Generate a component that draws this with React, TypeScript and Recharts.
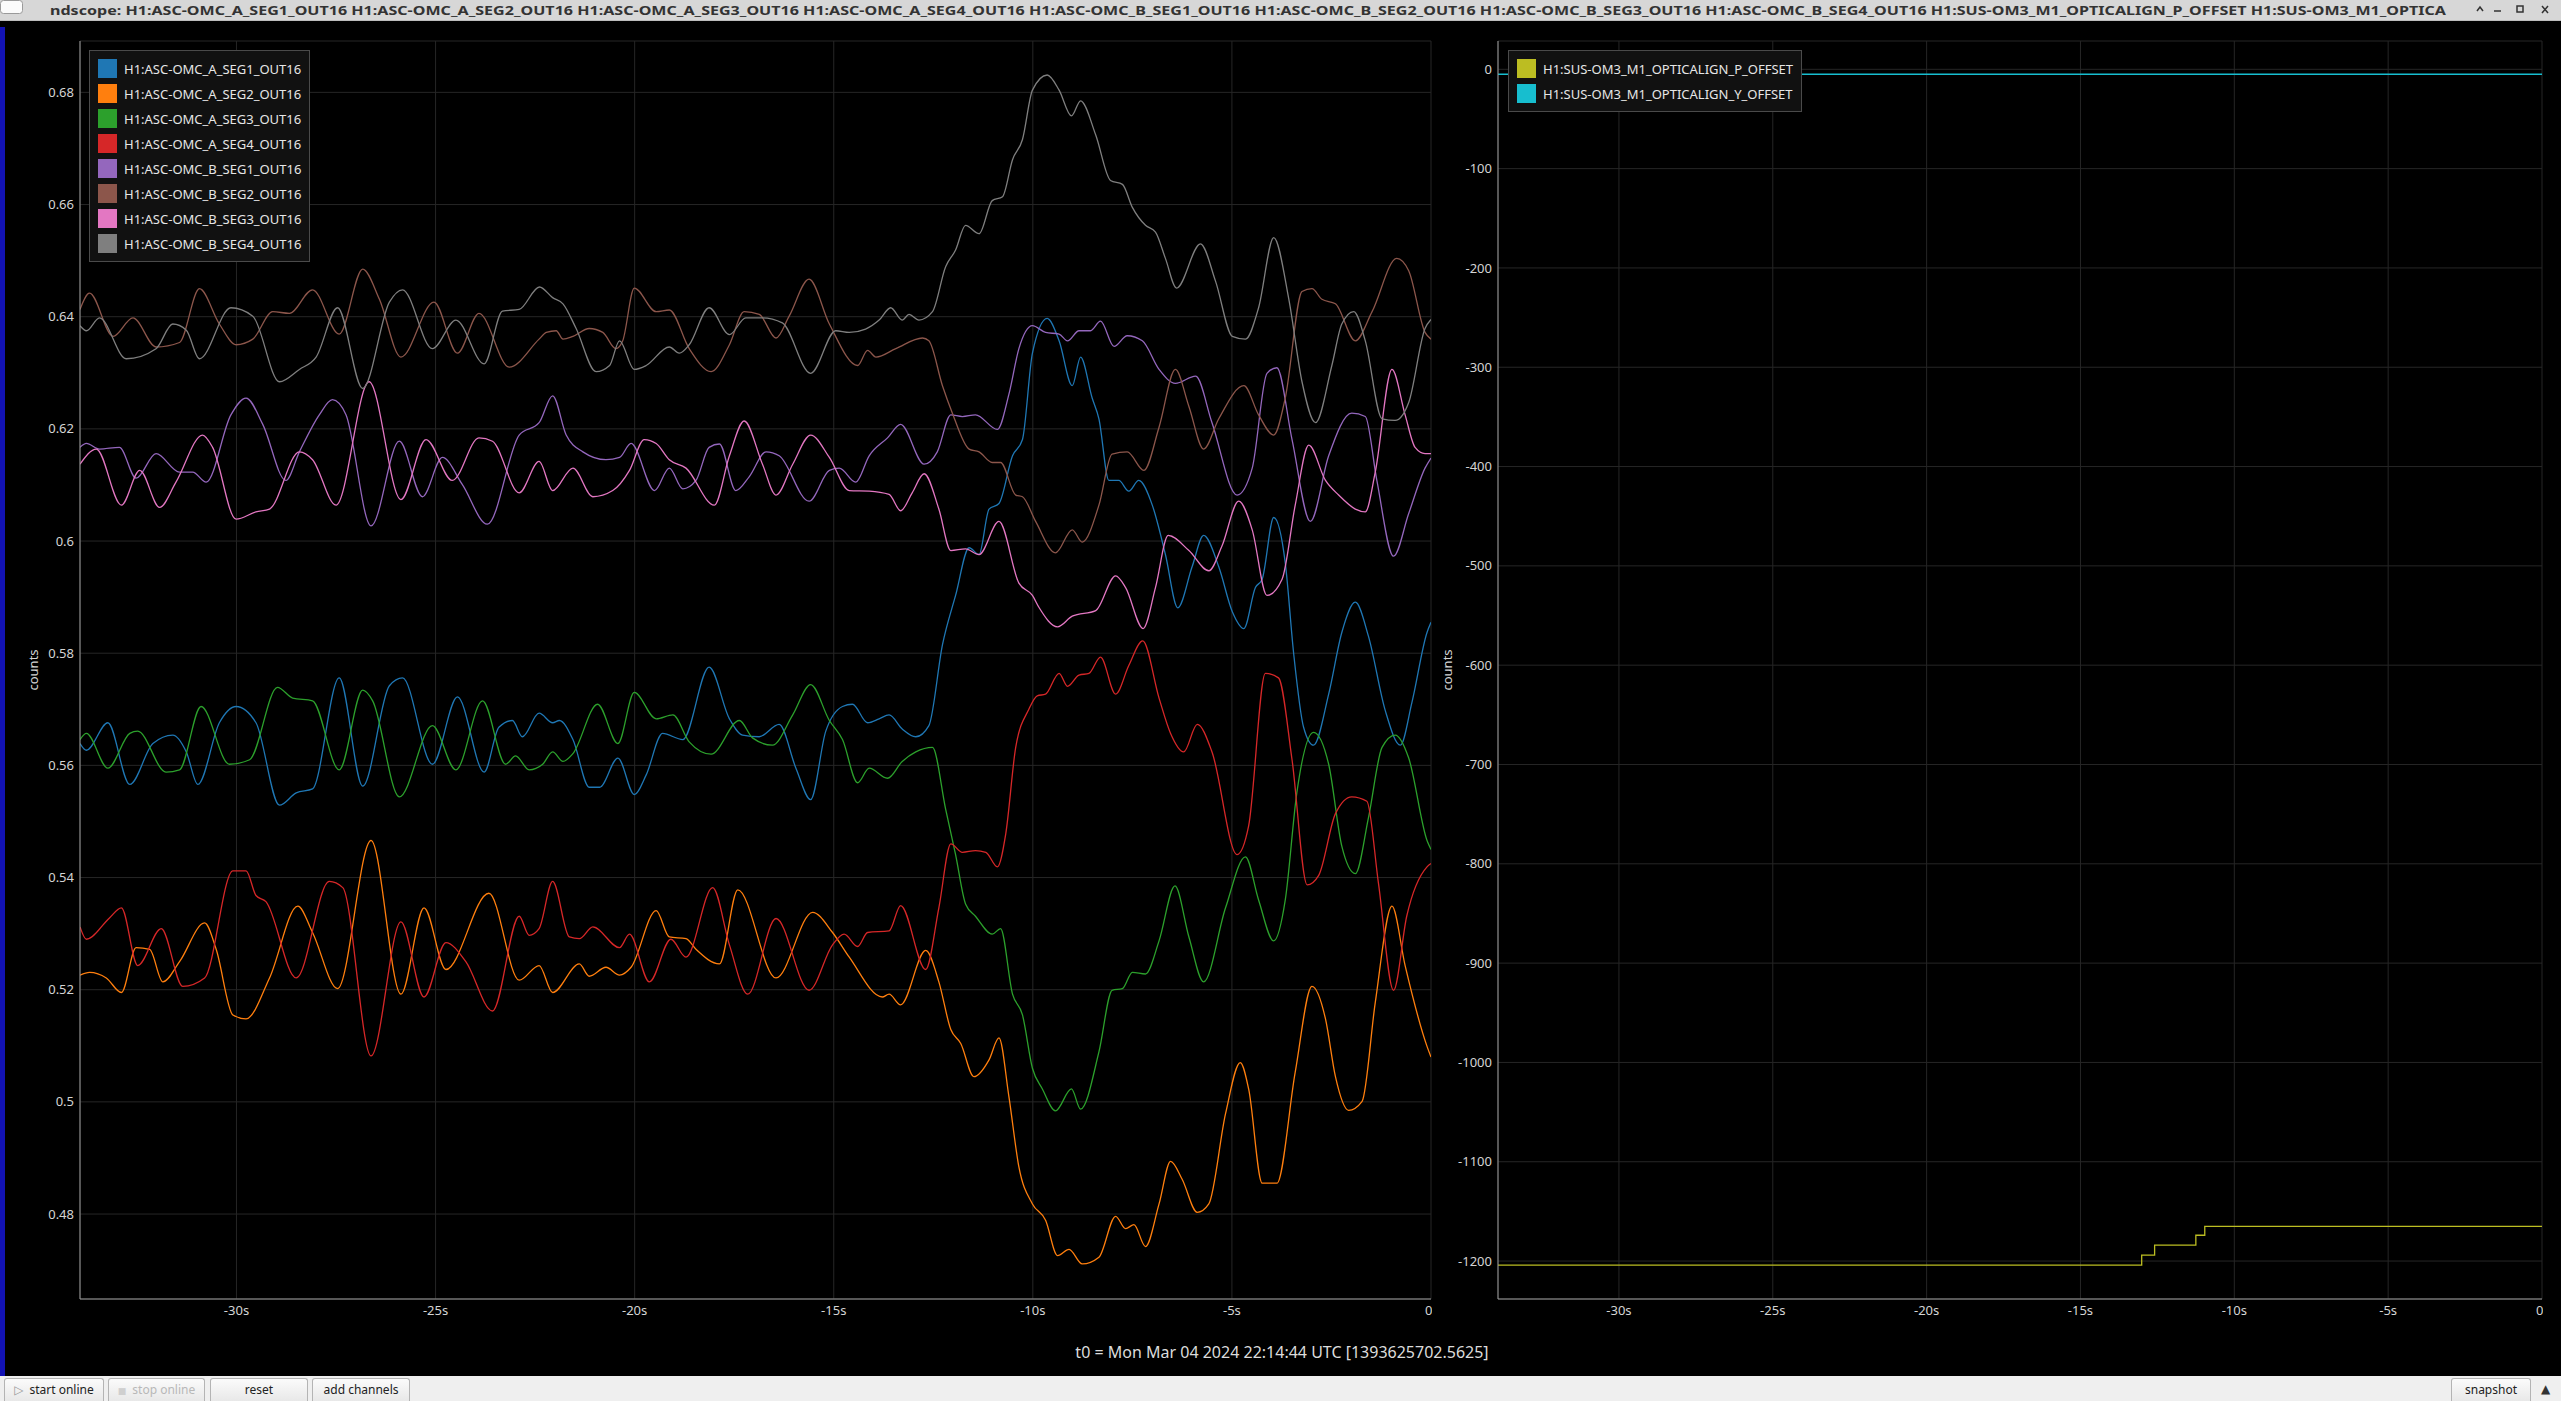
import { LineChart, Line, XAxis, YAxis, CartesianGrid, Legend } from 'recharts';

type Pt = [number, number];

// time axis (seconds relative to t0)
const timeDomain: [number, number] = [-33.93, 0];
const timeTicks = [-30, -25, -20, -15, -10, -5, 0];
const omcTicks = [0.48, 0.5, 0.52, 0.54, 0.56, 0.58, 0.6, 0.62, 0.64, 0.66, 0.68];
const offsetTicks = [0, -100, -200, -300, -400, -500, -600, -700, -800, -900, -1000, -1100, -1200];

const omcASeg1: Pt[] = [
  [-33.93, 0.5639], [-33.77, 0.5627], [-33.23, 0.5676], [-32.68, 0.5566], [-32.1, 0.5639], [-31.6, 0.5654],
  [-31.26, 0.5624], [-30.97, 0.5566], [-30.43, 0.5676], [-30.01, 0.5705], [-29.51, 0.5676], [-28.92, 0.5529],
  [-28.5, 0.5551], [-28.09, 0.5558], [-27.42, 0.5756], [-26.83, 0.5563], [-26.16, 0.5742], [-25.83, 0.5756],
  [-25.08, 0.5602], [-24.45, 0.5722], [-23.78, 0.5588], [-23.41, 0.5668], [-23.07, 0.568], [-22.82, 0.5651],
  [-22.4, 0.5693], [-22.06, 0.5676], [-21.89, 0.568], [-21.55, 0.5646], [-21.14, 0.5561], [-20.88, 0.5561],
  [-20.42, 0.5613], [-20.01, 0.5548], [-19.71, 0.5583], [-19.3, 0.5657], [-18.79, 0.5646], [-18.13, 0.5775],
  [-17.62, 0.5683], [-17.29, 0.5654], [-16.87, 0.5651], [-16.37, 0.5673], [-15.95, 0.5595], [-15.58, 0.5539],
  [-15.2, 0.5661], [-14.78, 0.5705], [-14.53, 0.5709], [-14.15, 0.5676], [-13.86, 0.5683], [-13.61, 0.569],
  [-13.28, 0.5665], [-12.94, 0.5651], [-12.61, 0.5671], [-12.27, 0.5815], [-11.94, 0.5903], [-11.6, 0.5988],
  [-11.35, 0.5976], [-11.1, 0.6057], [-10.85, 0.6067], [-10.51, 0.6152], [-10.26, 0.6181], [-10.01, 0.6335],
  [-9.64, 0.6397], [-9.34, 0.6357], [-9.01, 0.6277], [-8.8, 0.6328], [-8.51, 0.6255], [-8.34, 0.6218],
  [-8.09, 0.6108], [-7.84, 0.6108], [-7.59, 0.6089], [-7.34, 0.6108], [-7.0, 0.6064], [-6.67, 0.5976],
  [-6.36, 0.5881], [-6.0, 0.5954], [-5.71, 0.601], [-5.33, 0.5954], [-4.99, 0.5874], [-4.7, 0.5844],
  [-4.41, 0.5917], [-4.24, 0.5932], [-3.95, 0.6042], [-3.66, 0.5961], [-3.45, 0.58], [-3.2, 0.5668],
  [-2.95, 0.5636], [-2.57, 0.5727], [-2.24, 0.5837], [-1.9, 0.5891], [-1.57, 0.583], [-1.15, 0.5698],
  [-0.77, 0.5636], [-0.48, 0.5712], [-0.1, 0.5837], [0, 0.5855],
];

const omcASeg2: Pt[] = [
  [-33.93, 0.5226], [-33.69, 0.5231], [-33.27, 0.5221], [-32.89, 0.5195], [-32.52, 0.5275], [-32.18, 0.5272],
  [-31.85, 0.5214], [-31.43, 0.525], [-30.8, 0.5319], [-30.51, 0.5272], [-30.09, 0.5155], [-29.76, 0.5148],
  [-29.17, 0.5221], [-28.46, 0.5349], [-28.09, 0.5302], [-27.46, 0.5202], [-26.62, 0.5466], [-25.87, 0.5192],
  [-25.29, 0.5346], [-24.74, 0.5236], [-23.66, 0.5372], [-22.9, 0.5217], [-22.4, 0.5243], [-22.06, 0.5195],
  [-21.39, 0.5246], [-21.14, 0.5224], [-20.72, 0.524], [-20.38, 0.5226], [-20.09, 0.524], [-19.46, 0.5341],
  [-19.13, 0.5294], [-18.71, 0.5291], [-18.46, 0.5272], [-17.87, 0.5246], [-17.41, 0.5378], [-16.45, 0.5221],
  [-15.53, 0.5338], [-15.03, 0.5302], [-14.61, 0.5258], [-13.78, 0.5187], [-13.61, 0.5192], [-13.32, 0.5173],
  [-12.69, 0.527], [-12.36, 0.5214], [-12.06, 0.5129], [-11.81, 0.5104], [-11.48, 0.5045], [-11.1, 0.5075],
  [-10.85, 0.5114], [-10.6, 0.5009], [-10.35, 0.4884], [-10.01, 0.4818], [-9.68, 0.4789], [-9.38, 0.4726],
  [-9.09, 0.4737], [-8.76, 0.4711], [-8.34, 0.4723], [-7.92, 0.4796], [-7.67, 0.4774], [-7.46, 0.4781],
  [-7.17, 0.4742], [-6.83, 0.4818], [-6.54, 0.4894], [-6.25, 0.4862], [-5.87, 0.4803], [-5.58, 0.4818],
  [-5.16, 0.4979], [-4.79, 0.507], [-4.58, 0.5023], [-4.24, 0.4855], [-3.87, 0.4855], [-3.41, 0.5053],
  [-2.99, 0.5206], [-2.65, 0.5148], [-2.4, 0.5045], [-2.07, 0.4985], [-1.73, 0.5001], [-1.4, 0.5177],
  [-0.98, 0.5349], [-0.65, 0.5243], [-0.1, 0.5099], [0, 0.508],
];

const omcASeg3: Pt[] = [
  [-33.93, 0.5646], [-33.77, 0.5657], [-33.23, 0.5595], [-32.68, 0.5657], [-32.48, 0.5661], [-31.77, 0.5588],
  [-31.43, 0.5592], [-30.89, 0.5705], [-30.18, 0.5602], [-29.67, 0.561], [-28.97, 0.5739], [-28.59, 0.572],
  [-28.09, 0.5715], [-27.42, 0.5592], [-26.83, 0.5734], [-26.58, 0.5715], [-25.91, 0.5544], [-25.08, 0.5671],
  [-24.49, 0.5592], [-23.82, 0.5715], [-23.24, 0.5602], [-22.99, 0.5617], [-22.65, 0.5592], [-22.31, 0.5602],
  [-22.06, 0.5624], [-21.8, 0.5607], [-21.55, 0.5621], [-20.93, 0.5709], [-20.42, 0.5639], [-20.01, 0.573],
  [-19.46, 0.5683], [-19.04, 0.569], [-18.63, 0.5642], [-18.08, 0.562], [-17.37, 0.568], [-17.04, 0.5649],
  [-16.54, 0.5636], [-16.03, 0.569], [-15.58, 0.5744], [-15.11, 0.568], [-14.78, 0.5646], [-14.4, 0.5569],
  [-14.11, 0.5595], [-13.65, 0.5577], [-13.28, 0.5607], [-12.94, 0.5624], [-12.52, 0.5632], [-12.19, 0.5522],
  [-11.94, 0.5441], [-11.69, 0.5353], [-11.44, 0.5331], [-11.02, 0.5299], [-10.81, 0.5309], [-10.51, 0.5192],
  [-10.26, 0.5155], [-10.01, 0.506], [-9.76, 0.5023], [-9.43, 0.4984], [-9.03, 0.5023], [-8.8, 0.4987],
  [-8.34, 0.5089], [-8.01, 0.5199], [-7.75, 0.5202], [-7.5, 0.5231], [-7.17, 0.5228], [-6.83, 0.5287],
  [-6.43, 0.5385], [-6.08, 0.5294], [-5.71, 0.5214], [-5.16, 0.5346], [-4.66, 0.5437], [-4.33, 0.536],
  [-3.95, 0.5287], [-3.66, 0.536], [-3.37, 0.5551], [-2.95, 0.5659], [-2.57, 0.5602], [-2.24, 0.5456],
  [-1.9, 0.5407], [-1.57, 0.5507], [-1.23, 0.5632], [-0.9, 0.5654], [-0.56, 0.5613], [-0.1, 0.5466], [0, 0.545],
];

const omcASeg4: Pt[] = [
  [-33.93, 0.5312], [-33.77, 0.529], [-33.19, 0.5328], [-32.89, 0.5346], [-32.48, 0.5243], [-31.89, 0.5309],
  [-31.35, 0.5206], [-30.8, 0.5221], [-30.09, 0.5412], [-29.76, 0.5412], [-29.51, 0.5368], [-29.26, 0.5357],
  [-28.5, 0.5221], [-27.67, 0.5393], [-27.33, 0.5382], [-26.62, 0.5082], [-25.87, 0.5321], [-25.29, 0.5187],
  [-24.74, 0.5284], [-24.24, 0.525], [-23.57, 0.5162], [-22.9, 0.5331], [-22.65, 0.5297], [-22.4, 0.5309],
  [-22.06, 0.5393], [-21.64, 0.5294], [-21.39, 0.5291], [-21.05, 0.5312], [-20.38, 0.5275], [-20.13, 0.5299],
  [-19.63, 0.5214], [-19.09, 0.529], [-18.71, 0.5258], [-18.04, 0.5382], [-17.62, 0.528], [-17.16, 0.5192],
  [-16.45, 0.5327], [-15.62, 0.5199], [-15.03, 0.528], [-14.74, 0.5299], [-14.4, 0.5277], [-14.15, 0.5302],
  [-13.61, 0.5305], [-13.32, 0.535], [-12.69, 0.5236], [-12.36, 0.5346], [-12.06, 0.546], [-11.77, 0.5445],
  [-11.44, 0.5448], [-11.18, 0.5445], [-10.89, 0.5419], [-10.68, 0.5478], [-10.43, 0.5632], [-10.1, 0.57],
  [-9.89, 0.5724], [-9.68, 0.5727], [-9.34, 0.5764], [-9.13, 0.5741], [-8.84, 0.5761], [-8.59, 0.5764],
  [-8.3, 0.5793], [-7.92, 0.5727], [-7.59, 0.5778], [-7.24, 0.5822], [-6.83, 0.572], [-6.54, 0.5657],
  [-6.21, 0.5624], [-5.87, 0.5673], [-5.5, 0.5624], [-4.87, 0.5441], [-4.58, 0.5492], [-4.16, 0.5764],
  [-3.83, 0.5756], [-3.49, 0.561], [-3.11, 0.5387], [-2.82, 0.5404], [-2.4, 0.5514], [-1.99, 0.5544],
  [-1.61, 0.5536], [-1.32, 0.539], [-0.94, 0.5199], [-0.61, 0.5331], [-0.1, 0.5419], [0, 0.5425],
];

const omcBSeg1: Pt[] = [
  [-33.93, 0.6167], [-33.77, 0.6174], [-33.44, 0.6164], [-32.94, 0.6167], [-32.52, 0.6112], [-32.02, 0.6156],
  [-31.43, 0.6123], [-31.1, 0.6123], [-30.76, 0.6105], [-30.14, 0.6225], [-29.76, 0.6255], [-29.34, 0.6208],
  [-28.76, 0.6108], [-28.42, 0.6159], [-27.92, 0.6225], [-27.59, 0.6252], [-27.25, 0.6225], [-26.62, 0.6027],
  [-25.91, 0.6178], [-25.33, 0.6079], [-24.83, 0.6149], [-24.33, 0.6101], [-23.7, 0.603], [-22.9, 0.6189],
  [-22.4, 0.6211], [-22.06, 0.6259], [-21.72, 0.6189], [-21.3, 0.6159], [-20.72, 0.6145], [-20.38, 0.6149],
  [-20.09, 0.6174], [-19.5, 0.609], [-19.13, 0.613], [-18.79, 0.6093], [-18.46, 0.6108], [-18.13, 0.6167],
  [-17.87, 0.6173], [-17.46, 0.609], [-17.12, 0.6115], [-16.7, 0.6159], [-16.37, 0.6152], [-15.62, 0.6071],
  [-15.11, 0.6126], [-14.86, 0.613], [-14.45, 0.6105], [-14.11, 0.6152], [-13.65, 0.6184], [-13.32, 0.6208],
  [-12.73, 0.6137], [-12.4, 0.6159], [-12.06, 0.6225], [-11.77, 0.6222], [-11.44, 0.6225], [-10.89, 0.6199],
  [-10.6, 0.6262], [-10.35, 0.6343], [-10.01, 0.6384], [-9.68, 0.6372], [-9.34, 0.6369], [-9.13, 0.6357],
  [-8.84, 0.6375], [-8.55, 0.6375], [-8.3, 0.6392], [-7.96, 0.6347], [-7.63, 0.6366], [-7.25, 0.6357],
  [-6.83, 0.6306], [-6.42, 0.6281], [-5.91, 0.6294], [-5.5, 0.6211], [-4.87, 0.6082], [-4.49, 0.613],
  [-4.12, 0.6299], [-3.87, 0.6309], [-3.49, 0.6181], [-3.03, 0.6035], [-2.57, 0.6152], [-1.99, 0.6228],
  [-1.65, 0.6222], [-1.36, 0.6108], [-0.94, 0.5973], [-0.56, 0.6049], [-0.15, 0.613], [0, 0.6148],
];

const omcBSeg2: Pt[] = [
  [-33.93, 0.6413], [-33.69, 0.6442], [-33.1, 0.6365], [-32.6, 0.6398], [-32.02, 0.6346], [-31.43, 0.6354],
  [-30.93, 0.645], [-30.43, 0.6387], [-30.01, 0.635], [-29.59, 0.636], [-29.09, 0.6409], [-28.67, 0.6406],
  [-28.09, 0.6448], [-27.42, 0.6369], [-26.83, 0.6485], [-26.41, 0.6431], [-25.87, 0.6328], [-25.04, 0.6426],
  [-24.45, 0.6335], [-23.91, 0.6406], [-23.15, 0.631], [-22.4, 0.636], [-22.22, 0.6372], [-21.97, 0.6375],
  [-21.8, 0.636], [-21.55, 0.6365], [-21.14, 0.6379], [-20.8, 0.6372], [-20.47, 0.6343], [-20.3, 0.6357],
  [-20.01, 0.6451], [-19.46, 0.6409], [-19.13, 0.6412], [-18.63, 0.6343], [-18.08, 0.6302], [-17.62, 0.635],
  [-17.25, 0.6409], [-16.87, 0.6404], [-16.45, 0.6362], [-16.12, 0.6401], [-15.62, 0.6467], [-15.11, 0.6387],
  [-14.4, 0.6313], [-14.15, 0.634], [-13.94, 0.6328], [-13.44, 0.6343], [-12.77, 0.6362], [-12.61, 0.6357],
  [-12.27, 0.6277], [-12.02, 0.6228], [-11.6, 0.6164], [-11.35, 0.6159], [-11.02, 0.614], [-10.81, 0.614],
  [-10.43, 0.6082], [-10.26, 0.6079], [-9.93, 0.6035], [-9.43, 0.5979], [-9.01, 0.602], [-8.76, 0.5998],
  [-8.34, 0.6064], [-8.01, 0.6155], [-7.63, 0.6159], [-7.21, 0.6126], [-6.83, 0.6203], [-6.42, 0.6306],
  [-6.08, 0.624], [-5.71, 0.6164], [-5.33, 0.6218], [-4.7, 0.6277], [-4.33, 0.6225], [-3.95, 0.6189],
  [-3.66, 0.6255], [-3.24, 0.6445], [-2.99, 0.645], [-2.74, 0.6431], [-2.4, 0.6423], [-1.9, 0.6357],
  [-1.48, 0.6409], [-0.86, 0.6504], [-0.56, 0.6482], [-0.15, 0.6372], [0, 0.636],
];

const omcBSeg3: Pt[] = [
  [-33.93, 0.6137], [-33.52, 0.6164], [-32.89, 0.6064], [-32.43, 0.6126], [-31.93, 0.606], [-31.52, 0.6105],
  [-30.85, 0.6189], [-30.6, 0.6167], [-30.01, 0.6039], [-29.51, 0.6052], [-29.17, 0.6057], [-28.42, 0.6159],
  [-28.09, 0.6145], [-27.5, 0.6064], [-26.67, 0.6284], [-25.87, 0.6074], [-25.24, 0.6181], [-24.58, 0.6108],
  [-23.91, 0.6184], [-23.57, 0.6178], [-22.9, 0.6086], [-22.4, 0.6142], [-22.06, 0.609], [-21.55, 0.613],
  [-21.05, 0.6079], [-20.55, 0.609], [-20.13, 0.6126], [-19.76, 0.6181], [-19.46, 0.6174], [-19.13, 0.6145],
  [-18.71, 0.613], [-18.0, 0.6064], [-17.62, 0.6152], [-17.25, 0.6214], [-16.79, 0.6137], [-16.45, 0.6082],
  [-16.03, 0.6137], [-15.58, 0.6189], [-15.11, 0.6149], [-14.61, 0.609], [-14.11, 0.6089], [-13.61, 0.6083],
  [-13.32, 0.6054], [-13.03, 0.6086], [-12.73, 0.612], [-12.36, 0.6057], [-12.06, 0.5983], [-11.69, 0.5986],
  [-11.35, 0.5976], [-10.85, 0.6035], [-10.35, 0.5925], [-10.01, 0.5903], [-9.84, 0.5881], [-9.38, 0.5847],
  [-9.01, 0.5866], [-8.42, 0.5876], [-7.92, 0.5938], [-7.67, 0.5917], [-7.23, 0.5844], [-6.92, 0.5917],
  [-6.6, 0.601], [-6.08, 0.5983], [-5.58, 0.5947], [-5.25, 0.5991], [-4.83, 0.6071], [-4.49, 0.602],
  [-4.12, 0.5903], [-3.74, 0.5932], [-3.41, 0.6064], [-3.07, 0.6171], [-2.65, 0.6108], [-2.32, 0.6082],
  [-1.9, 0.6057], [-1.65, 0.6052], [-1.4, 0.6123], [-0.98, 0.6306], [-0.65, 0.6225], [-0.4, 0.6167],
  [-0.15, 0.6156], [0, 0.6156],
];

const omcBSeg4: Pt[] = [
  [-33.93, 0.6384], [-33.77, 0.6375], [-33.44, 0.6398], [-32.77, 0.6325], [-32.02, 0.6343], [-31.6, 0.6387],
  [-31.26, 0.6376], [-30.93, 0.6325], [-30.14, 0.6416], [-29.59, 0.6401], [-28.92, 0.6284], [-28.42, 0.6306],
  [-28.0, 0.6328], [-27.46, 0.6416], [-26.83, 0.6272], [-26.16, 0.6426], [-25.83, 0.6448], [-25.08, 0.6343],
  [-24.49, 0.6394], [-23.78, 0.6316], [-23.32, 0.641], [-22.9, 0.6413], [-22.39, 0.6453], [-22.06, 0.6434],
  [-21.8, 0.6423], [-21.47, 0.6379], [-20.97, 0.6302], [-20.63, 0.6313], [-20.38, 0.6357], [-20.01, 0.6306],
  [-19.71, 0.6313], [-19.13, 0.6346], [-18.88, 0.6335], [-18.63, 0.635], [-18.13, 0.6416], [-17.62, 0.6368],
  [-17.21, 0.6398], [-16.79, 0.6398], [-16.29, 0.6389], [-15.58, 0.6299], [-14.95, 0.6375], [-14.61, 0.6372],
  [-14.2, 0.6378], [-13.86, 0.6394], [-13.57, 0.6416], [-13.28, 0.6394], [-13.11, 0.6404], [-12.86, 0.6394],
  [-12.52, 0.6409], [-12.19, 0.6489], [-11.94, 0.6519], [-11.69, 0.6563], [-11.35, 0.6548], [-11.02, 0.6607],
  [-10.76, 0.6614], [-10.51, 0.668], [-10.26, 0.6716], [-10.01, 0.6804], [-9.64, 0.6831], [-9.34, 0.6804],
  [-9.03, 0.6758], [-8.8, 0.6785], [-8.42, 0.6724], [-8.05, 0.6643], [-7.75, 0.6636], [-7.5, 0.6595],
  [-7.17, 0.6563], [-6.92, 0.6551], [-6.67, 0.6504], [-6.39, 0.6451], [-5.79, 0.653], [-5.41, 0.6463],
  [-4.99, 0.6365], [-4.66, 0.636], [-4.33, 0.6416], [-3.95, 0.6541], [-3.57, 0.6431], [-3.24, 0.6284],
  [-2.9, 0.6211], [-2.49, 0.6313], [-2.24, 0.6387], [-1.94, 0.6409], [-1.65, 0.6357], [-1.23, 0.6218],
  [-0.9, 0.6215], [-0.56, 0.6247], [-0.15, 0.6379], [0, 0.6395],
];

const om3PitchOffset: Pt[] = [
  [-33.93, -1204], [-13.01, -1194], [-12.59, -1184], [-11.25, -1174], [-10.96, -1165], [0, -1165],
];
const om3YawOffset: Pt[] = [
  [-33.93, -5], [0, -5],
];

const omcChannels = [
  { name: 'H1:ASC-OMC_A_SEG1_OUT16', color: '#1f77b4', points: omcASeg1 },
  { name: 'H1:ASC-OMC_A_SEG2_OUT16', color: '#ff7f0e', points: omcASeg2 },
  { name: 'H1:ASC-OMC_A_SEG3_OUT16', color: '#2ca02c', points: omcASeg3 },
  { name: 'H1:ASC-OMC_A_SEG4_OUT16', color: '#d62728', points: omcASeg4 },
  { name: 'H1:ASC-OMC_B_SEG1_OUT16', color: '#9467bd', points: omcBSeg1 },
  { name: 'H1:ASC-OMC_B_SEG2_OUT16', color: '#8c564b', points: omcBSeg2 },
  { name: 'H1:ASC-OMC_B_SEG3_OUT16', color: '#e377c2', points: omcBSeg3 },
  { name: 'H1:ASC-OMC_B_SEG4_OUT16', color: '#7f7f7f', points: omcBSeg4 },
];

const om3Channels = [
  { name: 'H1:SUS-OM3_M1_OPTICALIGN_P_OFFSET', color: '#bcbd22', points: om3PitchOffset },
  { name: 'H1:SUS-OM3_M1_OPTICALIGN_Y_OFFSET', color: '#17becf', points: om3YawOffset },
];

const windowTitle =
  'ndscope: H1:ASC-OMC_A_SEG1_OUT16 H1:ASC-OMC_A_SEG2_OUT16 H1:ASC-OMC_A_SEG3_OUT16 H1:ASC-OMC_A_SEG4_OUT16 ' +
  'H1:ASC-OMC_B_SEG1_OUT16 H1:ASC-OMC_B_SEG2_OUT16 H1:ASC-OMC_B_SEG3_OUT16 H1:ASC-OMC_B_SEG4_OUT16 ' +
  'H1:SUS-OM3_M1_OPTICALIGN_P_OFFSET H1:SUS-OM3_M1_OPTICA';
const t0Text = 't0 = Mon Mar 04 2024 22:14:44 UTC [1393625702.5625]';

const FONT = '"Noto Sans", "DejaVu Sans", sans-serif';
const tickStyle = { fill: '#d4d4d4', fontSize: 13, fontFamily: FONT };
const axisLine = { stroke: '#9c9c9c' };

const toRows = (pts: Pt[]) => pts.map(([t, v]) => ({ t, v }));
const fmtSec = (t: number) => (t === 0 ? '0' : `${t}s`);
const fmtCounts = (v: number) => String(parseFloat(v.toFixed(2)));

type Channel = { name: string; color: string; points: Pt[] };

function ChannelLegend({ channels }: { channels: Channel[] }) {
  return (
    <div
      style={{
        background: '#111111',
        border: '1px solid #4a4a4a',
        padding: '5px 8px',
        fontFamily: FONT,
        fontSize: 13,
        color: '#e6e6e6',
        whiteSpace: 'nowrap',
      }}
    >
      {channels.map((c) => (
        <div key={c.name} style={{ display: 'flex', alignItems: 'center', height: 25 }}>
          <span style={{ width: 19, height: 19, background: c.color, marginRight: 7, flex: 'none' }} />
          <span>{c.name}</span>
        </div>
      ))}
    </div>
  );
}

const countsLabel = (x: number) => (props: any) => {
  const vb = props.viewBox || {};
  const y = (vb.y ?? 21) + (vb.height ?? 1258) / 2;
  return (
    <text
      x={x}
      y={y}
      transform={`rotate(-90 ${x} ${y})`}
      textAnchor="middle"
      dominantBaseline="central"
      fill="#d4d4d4"
      fontSize={13}
      fontFamily={FONT}
    >
      counts
    </text>
  );
};

function Button({ left, width, children, disabled }: { left: number; width: number; children: any; disabled?: boolean }) {
  return (
    <div
      style={{
        position: 'absolute',
        left,
        top: 2,
        width,
        height: 23,
        boxSizing: 'border-box',
        border: '1px solid #b4b4b4',
        borderBottom: 'none',
        borderRadius: '3px 3px 0 0',
        background: 'linear-gradient(#fbfbfb, #e8e8e8)',
        color: disabled ? '#b8b8b8' : '#222',
        fontSize: 12,
        lineHeight: '22px',
        textAlign: 'center',
      }}
    >
      {children}
    </div>
  );
}

export default function App() {
  return (
    <div
      style={{
        position: 'relative',
        width: 2561,
        height: 1401,
        background: '#000',
        overflow: 'hidden',
        fontFamily: FONT,
      }}
    >
      <style>{'body{margin:0;}'}</style>

      {/* window title bar */}
      <svg width={2561} height={21} style={{ position: 'absolute', left: 0, top: 0 }}>
        <rect x={0} y={0} width={2561} height={21} fill="#d7d7d7" />
        <line x1={0} x2={2561} y1={20.5} y2={20.5} stroke="#bcbcbc" />
        <rect x={0.5} y={0.5} width={22} height={13} rx={3} fill="#fbfbfb" stroke="#9a9a9a" />
        <text
          x={50}
          y={15}
          fontSize={12.5}
          fontWeight={700}
          fill="#333"
          fontFamily={FONT}
          textLength={2396}
          lengthAdjust="spacingAndGlyphs"
        >
          {windowTitle}
        </text>
        <path d="M2477 11 L2480 7 L2483 11" fill="none" stroke="#333" strokeWidth={1.5} />
        <line x1={2494} x2={2501} y1={11} y2={11} stroke="#333" strokeWidth={1.5} />
        <rect x={2517} y={6} width={6} height={6} fill="none" stroke="#333" strokeWidth={1.5} />
        <path d="M2542 6 L2548 13 M2548 6 L2542 13" stroke="#333" strokeWidth={1.5} />
      </svg>

      <div style={{ position: 'absolute', left: 0, top: 27, width: 5, height: 1349, background: '#1212b4' }} />

      {/* left plot: OMC QPD segments */}
      <div style={{ position: 'absolute', left: 0, top: 20, width: 1432, height: 1309, overflow: 'hidden' }}>
        <LineChart width={1432} height={1309} margin={{ top: 21, right: 1, bottom: 0, left: 0 }}>
          <CartesianGrid stroke="#262626" />
          <XAxis
            dataKey="t"
            type="number"
            domain={timeDomain}
            allowDataOverflow
            ticks={timeTicks}
            tickFormatter={fmtSec}
            height={30}
            tickLine={false}
            tickSize={6}
            tickMargin={1}
            axisLine={axisLine}
            tick={tickStyle}
          />
          <YAxis
            type="number"
            domain={[0.46485, 0.68916]}
            allowDataOverflow
            ticks={omcTicks}
            tickFormatter={fmtCounts}
            width={80}
            tickLine={false}
            tickSize={6}
            tickMargin={0}
            axisLine={axisLine}
            tick={tickStyle}
            label={{ content: countsLabel(33) }}
          />
          <Legend
            layout="vertical"
            align="center"
            verticalAlign="middle"
            content={() => <ChannelLegend channels={omcChannels} />}
            wrapperStyle={{ left: 89, top: 30, width: 'auto', height: 'auto' }}
          />
          {omcChannels.map((c) => (
            <Line
              key={c.name}
              name={c.name}
              data={toRows(c.points)}
              dataKey="v"
              type="monotone"
              stroke={c.color}
              strokeWidth={1.3}
              dot={false}
              activeDot={false}
              isAnimationActive={false}
            />
          ))}
        </LineChart>
      </div>

      {/* right plot: OM3 alignment offsets */}
      <div style={{ position: 'absolute', left: 1436, top: 20, width: 1107, height: 1309, overflow: 'hidden' }}>
        <LineChart width={1107} height={1309} margin={{ top: 21, right: 1, bottom: 0, left: 0 }}>
          <CartesianGrid stroke="#262626" />
          <XAxis
            dataKey="t"
            type="number"
            domain={timeDomain}
            allowDataOverflow
            ticks={timeTicks}
            tickFormatter={fmtSec}
            height={30}
            tickLine={false}
            tickSize={6}
            tickMargin={1}
            axisLine={axisLine}
            tick={tickStyle}
          />
          <YAxis
            type="number"
            domain={[-1238.2, 28.5]}
            allowDataOverflow
            ticks={offsetTicks}
            width={62}
            tickLine={false}
            tickSize={6}
            tickMargin={0}
            axisLine={axisLine}
            tick={tickStyle}
            label={{ content: countsLabel(11) }}
          />
          <Legend
            layout="vertical"
            align="center"
            verticalAlign="middle"
            content={() => <ChannelLegend channels={om3Channels} />}
            wrapperStyle={{ left: 72, top: 30, width: 'auto', height: 'auto' }}
          />
          {om3Channels.map((c) => (
            <Line
              key={c.name}
              name={c.name}
              data={toRows(c.points)}
              dataKey="v"
              type="stepAfter"
              stroke={c.color}
              strokeWidth={1.3}
              dot={false}
              activeDot={false}
              isAnimationActive={false}
            />
          ))}
        </LineChart>
      </div>

      <div
        style={{
          position: 'absolute',
          left: 0,
          width: 2561,
          top: 1340,
          textAlign: 'center',
          paddingLeft: 3,
          boxSizing: 'border-box',
          color: '#dcdcdc',
          fontSize: 16,
          lineHeight: '24px',
        }}
      >
        {t0Text}
      </div>

      {/* bottom toolbar */}
      <div style={{ position: 'absolute', left: 0, top: 1376, width: 2561, height: 25, background: '#efefef' }}>
        <Button left={4} width={100}>
          <span style={{ color: '#9a9a9a', marginRight: 6 }}>▷</span>start online
        </Button>
        <Button left={108} width={97} disabled>
          <span style={{ color: '#cfcfcf', marginRight: 6, fontSize: 9 }}>■</span>stop online
        </Button>
        <Button left={210} width={98}>reset</Button>
        <Button left={312} width={98}>add channels</Button>
        <Button left={2451} width={80}>snapshot</Button>
        <div style={{ position: 'absolute', left: 2541, top: 4, fontSize: 12, color: '#333' }}>▲</div>
      </div>
    </div>
  );
}
